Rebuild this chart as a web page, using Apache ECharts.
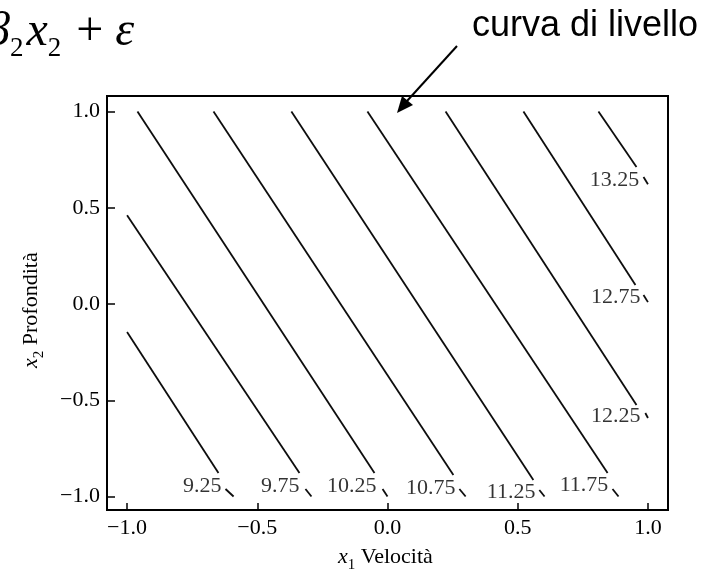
<!DOCTYPE html>
<html>
<head>
<meta charset="utf-8">
<script src="https://cdn.jsdelivr.net/npm/echarts@6/dist/echarts.min.js"></script>
<style>
  html, body { margin: 0; padding: 0; background: #ffffff; }
  #chart { width: 705px; height: 569px; }
</style>
</head>
<body>
<div id="chart"></div>
<script>
// Contour levels of the fitted response surface
const levels = ['9.25', '9.75', '10.25', '10.75', '11.25', '11.75', '12.25', '12.75', '13.25'];

// Each contour: start point, point where it breaks for the label,
// point where it resumes, and end point (x1 = Velocità, x2 = Profondità)
const startX1  = [-1.00, -1.00, -0.960, -0.668, -0.369, -0.077, 0.223, 0.522, 0.810];
const startX2  = [-0.145, 0.462, 1.00, 1.00, 1.00, 1.00, 1.00, 1.00, 1.00];
const breakX1  = [-0.649, -0.338, -0.050, 0.253, 0.560, 0.845, 0.956, 0.952, 0.956];
const breakX2  = [-0.878, -0.878, -0.878, -0.888, -0.914, -0.878, -0.525, 0.099, 0.712];
const resumeX1 = [-0.622, -0.315, -0.019, 0.276, 0.583, 0.864, 0.990, 0.983, 0.983];
const resumeX2 = [-0.961, -0.961, -0.961, -0.961, -0.966, -0.961, -0.566, 0.047, 0.660];
const endX1    = [-0.591, -0.292, 0.000, 0.300, 0.603, 0.887, 1.00, 1.00, 1.00];
const endX2    = [-1.00, -1.00, -1.00, -1.00, -1.00, -1.00, -0.592, 0.010, 0.623];

// Anchor (right-middle) of each level label
const labelX1 = [-0.637, -0.338, -0.042, 0.261, 0.568, 0.848, 0.971, 0.971, 0.967];
const labelX2 = [-0.945, -0.945, -0.945, -0.956, -0.977, -0.940, -0.582, 0.036, 0.644];

// Axis ticks
const tickValues = [-1.0, -0.5, 0.0, 0.5, 1.0];
const tickLabels = ['\u22121.0', '\u22120.5', '0.0', '0.5', '1.0'];

const SERIF = '"Liberation Serif", "DejaVu Serif", serif';
const SANS = '"Liberation Sans", Arial, sans-serif';

function tickText(v) {
  let best = 0;
  tickValues.forEach((t, i) => { if (Math.abs(t - v) < Math.abs(tickValues[best] - v)) best = i; });
  return tickLabels[best];
}

const series = [];
levels.forEach((lv, i) => {
  const segStyle = { color: '#0d0d0d', width: 1.8 };
  series.push({
    type: 'line', name: lv + ' a', data: [[startX1[i], startX2[i]], [breakX1[i], breakX2[i]]],
    showSymbol: false, symbol: 'none', lineStyle: segStyle, silent: true, animation: false
  });
  series.push({
    type: 'line', name: lv + ' b', data: [[resumeX1[i], resumeX2[i]], [endX1[i], endX2[i]]],
    showSymbol: false, symbol: 'none', lineStyle: segStyle, silent: true, animation: false
  });
});
series.push({
  type: 'scatter', name: 'levels', symbolSize: 0, silent: true, animation: false,
  data: levels.map((lv, i) => ({ value: [labelX1[i], labelX2[i]], name: lv })),
  label: {
    show: true, position: 'left', distance: 0,
    formatter: p => p.name,
    fontFamily: SERIF, fontSize: 22, color: '#000'
  }
});

const subRich = {
  i: { fontFamily: SERIF, fontStyle: 'italic', fontSize: 22, lineHeight: 24, verticalAlign: 'top', fill: '#000' },
  n: { fontFamily: SERIF, fontSize: 22, lineHeight: 24, verticalAlign: 'top', fill: '#000' },
  s: { fontFamily: SERIF, fontSize: 15, lineHeight: 27, verticalAlign: 'bottom', fill: '#000' }
};

const chart = echarts.init(document.getElementById('chart'), null, { renderer: 'canvas' });
chart.setOption({
  backgroundColor: '#ffffff',
  animation: false,
  grid: {
    left: 107, right: 37, top: 96, bottom: 59,
    show: true, borderColor: '#000', borderWidth: 2, backgroundColor: 'transparent',
    containLabel: false, outerBoundsMode: 'none'
  },
  xAxis: {
    type: 'value', min: -1.077, max: 1.077,
    splitLine: { show: false },
    axisLine: { show: true, onZero: false, lineStyle: { color: '#000', width: 2 } },
    axisTick: { show: true, inside: true, length: 7, customValues: tickValues, lineStyle: { color: '#000', width: 1.5 } },
    axisLabel: {
      show: true, customValues: tickValues, formatter: v => tickText(v),
      fontFamily: SERIF, fontSize: 22, color: '#000', margin: 7
    }
  },
  yAxis: {
    type: 'value', min: -1.07, max: 1.081,
    splitLine: { show: false },
    axisLine: { show: true, onZero: false, lineStyle: { color: '#000', width: 2 } },
    axisTick: { show: true, inside: true, length: 8, customValues: tickValues, lineStyle: { color: '#000', width: 1.5 } },
    axisLabel: {
      show: true, customValues: tickValues, formatter: v => tickText(v),
      fontFamily: SERIF, fontSize: 22, color: '#000', margin: 7
    }
  },
  series: series,
  graphic: [
    {
      type: 'text', left: -14, top: 8, silent: true,
      style: {
        text: '{i|\u03b2}{s|2}{i|x}{s|2}{n| + }{i|\u03b5}',
        rich: {
          i: { fontFamily: SERIF, fontStyle: 'italic', fontSize: 48, lineHeight: 54, verticalAlign: 'top', fill: '#000' },
          n: { fontFamily: SERIF, fontSize: 48, lineHeight: 54, verticalAlign: 'top', fill: '#000' },
          s: { fontFamily: SERIF, fontSize: 27, lineHeight: 54, verticalAlign: 'bottom', fill: '#000', padding: [0, 3, 0, 0] }
        }
      }
    },
    {
      type: 'text', right: 7, top: 8, silent: true,
      style: { text: 'curva di livello', fontFamily: SANS, fontSize: 36, fill: '#000' }
    },
    {
      type: 'line', silent: true,
      shape: { x1: 457, y1: 46, x2: 407, y2: 101 },
      style: { stroke: '#000', lineWidth: 2 }
    },
    {
      type: 'polygon', silent: true,
      shape: { points: [[397, 113], [413, 105], [402, 96]] },
      style: { fill: '#000' }
    },
    {
      type: 'text', left: 338, top: 546, silent: true,
      style: { text: '{i|x}{s|1}{n| Velocit\u00e0}', rich: subRich }
    },
    {
      type: 'text', x: 20, y: 368, rotation: Math.PI / 2, silent: true,
      style: { text: '{i|x}{s|2}{n| Profondit\u00e0}', rich: subRich }
    }
  ]
});
</script>
</body>
</html>
